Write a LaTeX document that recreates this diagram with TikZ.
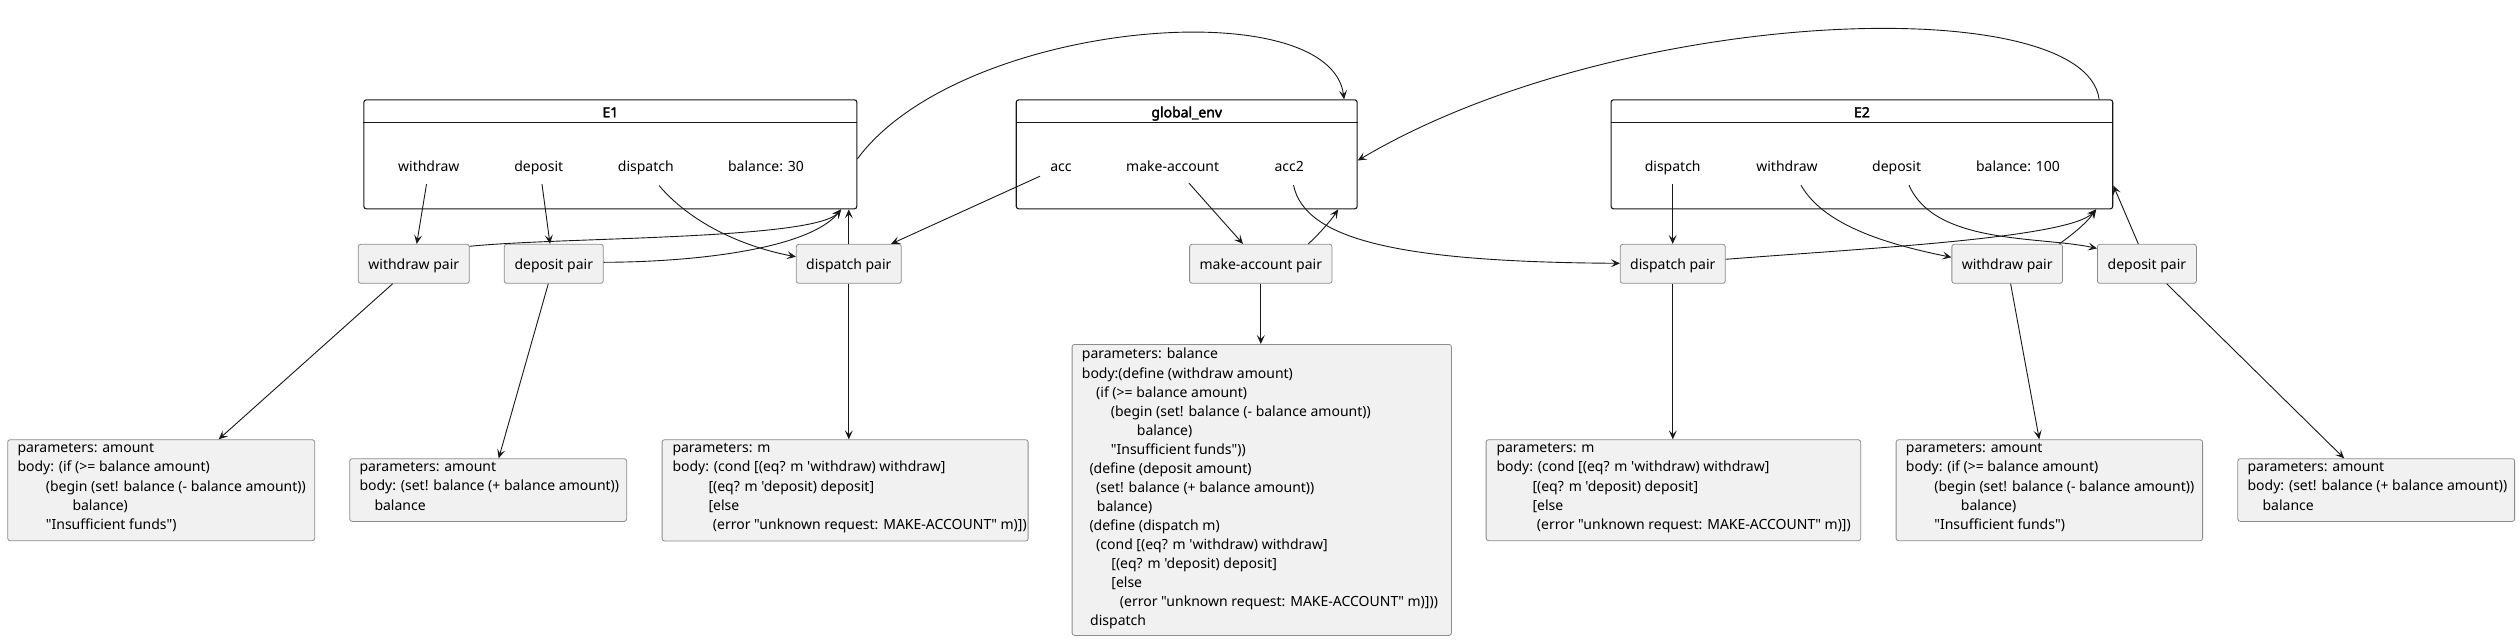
\documentclass[tikz,border=0pt]{standalone}
\usepackage{fontspec}
\setmainfont{Noto Sans}
\newfontfamily\nsans{Noto Sans}[AutoFakeBold=2.5]
\usetikzlibrary{arrows.meta}
\definecolor{ink}{HTML}{181818}
\definecolor{boxfill}{HTML}{F1F1F1}
\definecolor{boxline}{HTML}{8C8C8C}
\newcommand\ind[1]{\hspace*{#1pt}}
\begin{document}
\begin{tikzpicture}[x=1pt,y=-1pt,
  font=\nsans\fontsize{14pt}{19.07pt}\selectfont,
  envbox/.style={draw=ink, line width=1.1pt, fill=white, rounded corners=2.5pt, inner sep=0, anchor=north west},
  envtitle/.style={inner sep=0, anchor=base, font=\nsans\fontsize{14pt}{19.07pt}\selectfont\bfseries},
  field/.style={inner sep=0, text height=10.5pt, text depth=3.5pt, minimum height=33pt},
  pairbox/.style={draw=boxline, fill=boxfill, line width=0.8pt, rounded corners=2.5pt, minimum height=39pt, inner sep=0, text height=12.5pt, text depth=1.5pt},
  codebox/.style={draw=boxline, fill=boxfill, line width=0.8pt, rounded corners=2.5pt, inner sep=0, anchor=north west},
  codetext/.style={inner sep=0, anchor=north west, align=left, execute at begin node=\strut},
  arr/.style={draw=ink, line width=0.9pt, -{Stealth[length=9pt,width=8pt,inset=4pt]}}
]
\fill[white] (0,0) rectangle (2519,640);
\useasboundingbox (0,0) rectangle (2519,640);

% ---------- environment frames ----------
\node[envbox, minimum width=493pt, minimum height=109pt] (E1) at (363.3,99.3) {};
\draw[ink, line width=1.1pt] ([yshift=-23pt]E1.north west) -- ([yshift=-23pt]E1.north east);
\node[envtitle] (E1t) at ([yshift=-18pt]E1.north) {E1};

\node[envbox, minimum width=340.9pt, minimum height=109pt] (GE) at (1015.7,99.3) {};
\draw[ink, line width=1.1pt] ([yshift=-23pt]GE.north west) -- ([yshift=-23pt]GE.north east);
\node[envtitle] (GEt) at ([yshift=-18pt]GE.north) {global\_env};

\node[envbox, minimum width=501.7pt, minimum height=109pt] (E2) at (1610.5,99.3) {};
\draw[ink, line width=1.1pt] ([yshift=-23pt]E2.north west) -- ([yshift=-23pt]E2.north east);
\node[envtitle] (E2t) at ([yshift=-18pt]E2.north) {E2};

% ---------- fields ----------
\node[field] (e1w) at (428.8,167.5) {withdraw};
\node[field] (e1d) at (538.8,167.5) {deposit};
\node[field] (e1s) at (645.8,167.5) {dispatch};
\node[field] (e1b) at (766,167.5) {balance: 30};

\node[field] (gacc) at (1061,167.5) {acc};
\node[field] (gmk) at (1172.7,167.5) {make-account};
\node[field] (gacc2) at (1289.2,167.5) {acc2};

\node[field] (e2s) at (1672.7,167.5) {dispatch};
\node[field] (e2w) at (1787,167.5) {withdraw};
\node[field] (e2d) at (1896.6,167.5) {deposit};
\node[field] (e2b) at (2018,167.5) {balance: 100};

% ---------- pairs ----------
\node[pairbox, minimum width=111pt] (wp1) at (413.8,263.8) {withdraw pair};
\node[pairbox, minimum width=99pt] (dp1) at (553.8,263.8) {deposit pair};
\node[pairbox, minimum width=105pt] (sp1) at (848.8,263.8) {dispatch pair};
\node[pairbox, minimum width=142.4pt] (mkp) at (1260.8,263.8) {make-account pair};
\node[pairbox, minimum width=105pt] (sp2) at (1672.8,263.8) {dispatch pair};
\node[pairbox, minimum width=110.7pt] (wp2) at (2007.2,263.8) {withdraw pair};
\node[pairbox, minimum width=99pt] (dp2) at (2146.9,263.8) {deposit pair};

% ---------- procedure bodies ----------
\node[codebox, minimum width=307pt, minimum height=101pt] (bw1) at (7.3,439.3) {};
\node[codetext] (bw1t) at ([xshift=10pt,yshift=-4.15pt]bw1.north west) {parameters: amount\\
body: (if (>= balance amount)\\
\ind{28.4}(begin (set! balance (- balance amount))\\
\ind{55}balance)\\
\ind{28.4}"Insufficient funds")};

\node[codebox, minimum width=277pt, minimum height=62.7pt] (bd1) at (349.3,458.3) {};
\node[codetext] (bd1t) at ([xshift=10pt,yshift=-4.15pt]bd1.north west) {parameters: amount\\
body: (set! balance (+ balance amount))\\
\ind{15}balance};

\node[codebox, minimum width=366pt, minimum height=101.3pt] (bs1) at (661.7,439.3) {};
\node[codetext] (bs1t) at ([xshift=10.6pt,yshift=-4.15pt]bs1.north west) {parameters: m\\
body: (cond [(eq? m 'withdraw) withdraw]\\
\ind{36}[(eq? m 'deposit) deposit]\\
\ind{36}[else\\
\ind{40.4}(error "unknown request: MAKE-ACCOUNT" m)])};

\node[codebox, minimum width=379.3pt, minimum height=291pt] (bmk) at (1071.7,344) {};
\node[codetext] (bmkt) at ([xshift=10pt,yshift=-4.15pt]bmk.north west) {parameters: balance\\
body:(define (withdraw amount)\\
\ind{14.3}(if (>= balance amount)\\
\ind{29}(begin (set! balance (- balance amount))\\
\ind{55}balance)\\
\ind{29}"Insufficient funds"))\\
\ind{7.6}(define (deposit amount)\\
\ind{14.3}(set! balance (+ balance amount))\\
\ind{15}balance)\\
\ind{7.6}(define (dispatch m)\\
\ind{14.3}(cond [(eq? m 'withdraw) withdraw]\\
\ind{29.5}[(eq? m 'deposit) deposit]\\
\ind{29.5}[else\\
\ind{38}(error "unknown request: MAKE-ACCOUNT" m)]))\\
\ind{8.3}dispatch};

\node[codebox, minimum width=374.6pt, minimum height=101pt] (bs2) at (1485.7,439.3) {};
\node[codetext] (bs2t) at ([xshift=10.6pt,yshift=-4.15pt]bs2.north west) {parameters: m\\
body: (cond [(eq? m 'withdraw) withdraw]\\
\ind{36}[(eq? m 'deposit) deposit]\\
\ind{36}[else\\
\ind{40.4}(error "unknown request: MAKE-ACCOUNT" m)])};

\node[codebox, minimum width=306.5pt, minimum height=101pt] (bw2) at (1895.7,439.3) {};
\node[codetext] (bw2t) at ([xshift=10pt,yshift=-4.15pt]bw2.north west) {parameters: amount\\
body: (if (>= balance amount)\\
\ind{28.4}(begin (set! balance (- balance amount))\\
\ind{55}balance)\\
\ind{28.4}"Insufficient funds")};

\node[codebox, minimum width=276.8pt, minimum height=62.7pt] (bd2) at (2237.4,458.3) {};
\node[codetext] (bd2t) at ([xshift=10pt,yshift=-4.15pt]bd2.north west) {parameters: amount\\
body: (set! balance (+ balance amount))\\
\ind{15}balance};

% ---------- connectors: E1 ----------
\draw[arr] ([xshift=-2.3pt]e1w.south) -- ([xshift=2.9pt]wp1.north);
\draw[arr] ([xshift=3.2pt]e1d.south) -- ([xshift=-3.8pt]dp1.north);
\draw[arr] ([xshift=13.2pt,yshift=-1.3pt]e1s.south) .. controls (690,222) and (740,246) .. ([yshift=7pt]sp1.west);
\draw[arr] ([yshift=-2.4pt]wp1.north east) .. controls (560,237) and (815,240) .. ([xshift=-16.3pt]E1.south east);
\draw[arr] ([yshift=1.5pt]dp1.east) .. controls (700,262) and (810,248) .. ([xshift=-16.3pt]E1.south east);
\draw[arr] (sp1.north) -- (sp1.north |- E1.south);
\draw[arr] (sp1.south) -- (sp1.south |- bs1.north);
\draw[arr] ([xshift=-21.1pt]wp1.south) -- ([xshift=57.5pt]bw1.north);
\draw[arr] ([xshift=-5.5pt]dp1.south) -- ([xshift=10.5pt]bd1.north);
\draw[arr] ([yshift=-4.5pt]E1.east) .. controls (960,20) and (1330,-10) .. ([xshift=-13.6pt]GE.north east);

% ---------- connectors: global env ----------
\draw[arr] ([xshift=-21pt,yshift=8pt]gacc.south) -- ([xshift=-10.6pt]sp1.north east);
\draw[arr] ([xshift=16.3pt,yshift=1pt]gmk.south) -- ([xshift=-17.8pt]mkp.north);
\draw[arr] ([xshift=-24.1pt]mkp.north east) .. controls (1317,236) and (1330,222) .. ([xshift=-19.6pt]GE.south east);
\draw[arr] (mkp.south) -- (mkp.south |- bmk.north);
\draw[arr] ([xshift=4.3pt,yshift=-1pt]gacc2.south) .. controls (1305,240) and (1400,262) .. ([yshift=0.5pt]sp2.west);

% ---------- connectors: E2 ----------
\draw[arr] (e2s.south) -- (e2s.south |- sp2.north);
\draw[arr] (sp2.south) -- (sp2.south |- bs2.north);
\draw[arr] ([yshift=4.5pt]sp2.east) .. controls (1870,248) and (2070,238) .. ([xshift=-17.2pt]E2.south east);
\draw[arr] ([xshift=14pt,yshift=-1pt]e2w.south) .. controls (1825,228) and (1896,246) .. ([yshift=6.5pt]wp2.west);
\draw[arr] ([xshift=12.4pt,yshift=-1pt]e2d.south) .. controls (1935,245) and (2040,236) .. ([yshift=-4.5pt]dp2.north west);
\draw[arr] ([xshift=-3.6pt]wp2.north east) .. controls (2070,236) and (2085,225) .. ([xshift=-17.2pt]E2.south east);
\draw[arr] ([xshift=-8.6pt]dp2.north) -- ([yshift=-31.2pt]E2.east);
\draw[arr] ([xshift=3.4pt]wp2.south) -- ([xshift=-10.1pt]bw2.north);
\draw[arr] ([xshift=19.7pt]dp2.south) -- ([xshift=-32.1pt]bd2.north);
\draw[arr] ([xshift=-14.2pt]E2.north east) .. controls (2085,-10) and (1620,5) .. ([yshift=-6.2pt]GE.east);
\end{tikzpicture}
\end{document}
